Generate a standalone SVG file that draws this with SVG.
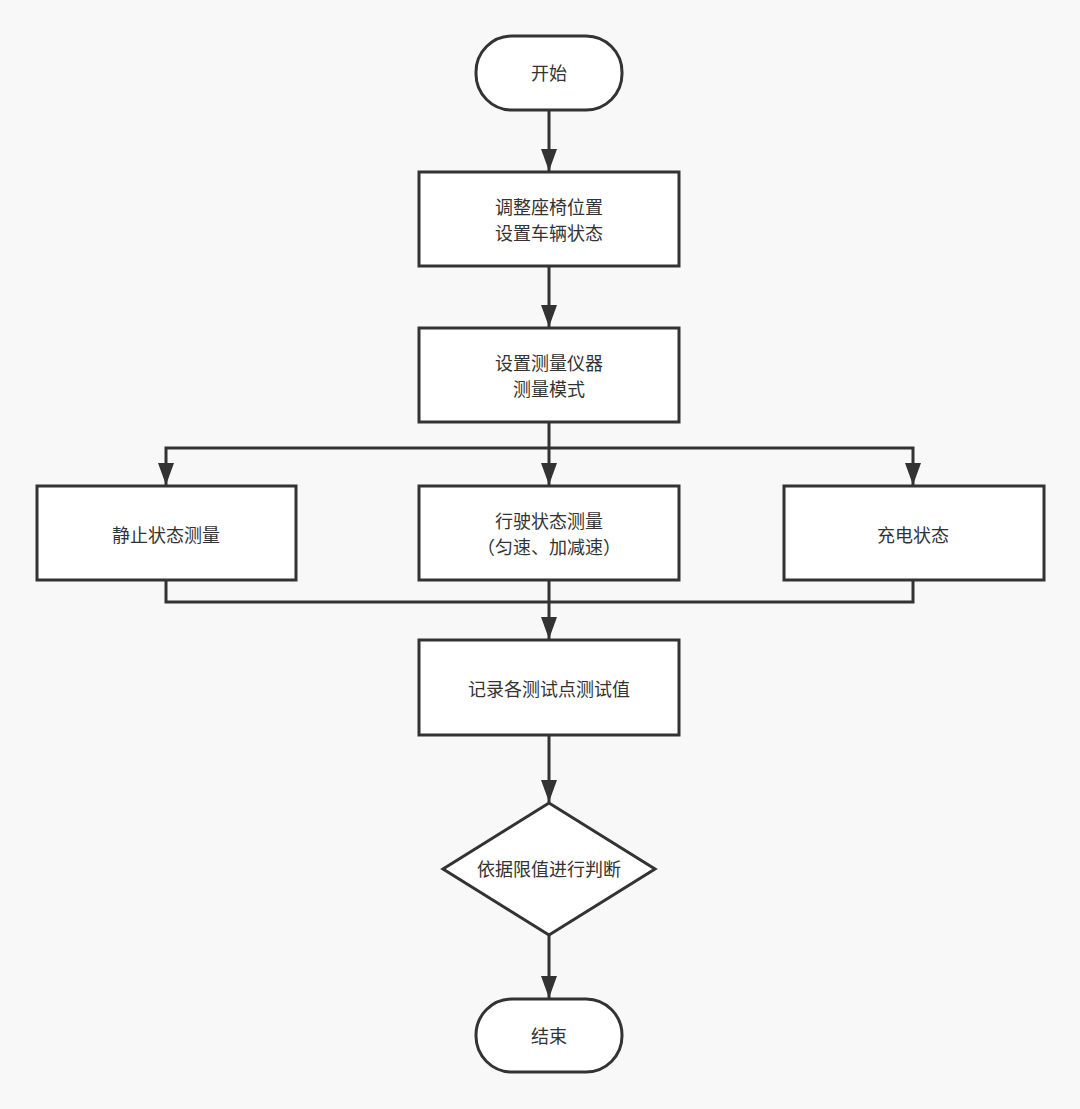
<svg xmlns="http://www.w3.org/2000/svg" width="1080" height="1109" viewBox="0 0 1080 1109">
<style>
.n{fill:#fff;stroke:#333;stroke-width:3}
.c{fill:none;stroke:#333;stroke-width:3}
text{font-family:"Liberation Serif","Noto Sans CJK SC",serif;font-size:18px;fill:#333;text-anchor:middle;dominant-baseline:central}
</style>
<defs>
<marker id="a" viewBox="0 0 22 16" refX="22" refY="8" markerWidth="22" markerHeight="16" markerUnits="userSpaceOnUse" orient="auto">
<path d="M0,0 L22,8 L0,16 Z" fill="#333"/>
</marker>
</defs>
<rect width="1080" height="1109" fill="#f8f8f8"/>
<g id="connectors">
<path class="c" d="M549,110 V171" marker-end="url(#a)"/>
<path class="c" d="M549,266 V327" marker-end="url(#a)"/>
<path class="c" d="M549,422 V485" marker-end="url(#a)"/>
<path class="c" d="M549,448 H166 V485" marker-end="url(#a)"/>
<path class="c" d="M549,448 H913 V485" marker-end="url(#a)"/>
<path class="c" d="M166,580 V602 H549"/>
<path class="c" d="M913,580 V602 H549"/>
<path class="c" d="M549,580 V639" marker-end="url(#a)"/>
<path class="c" d="M549,735 V802" marker-end="url(#a)"/>
<path class="c" d="M549,935 V998" marker-end="url(#a)"/>
</g>
<g id="start"><rect class="n" x="476" y="36" width="146" height="74" rx="36"/><text x="549" y="74">开始</text></g>
<g id="adjust"><rect class="n" x="419" y="172" width="260" height="94"/><text x="549" y="208">调整座椅位置</text><text x="549" y="234">设置车辆状态</text></g>
<g id="setup"><rect class="n" x="419" y="328" width="260" height="94"/><text x="549" y="364">设置测量仪器</text><text x="549" y="390">测量模式</text></g>
<g id="static"><rect class="n" x="37" y="486" width="259" height="94"/><text x="166" y="536">静止状态测量</text></g>
<g id="driving"><rect class="n" x="419" y="486" width="260" height="94"/><text x="549" y="522">行驶状态测量</text><text x="549" y="548">（匀速、加减速）</text></g>
<g id="charging"><rect class="n" x="784" y="486" width="260" height="94"/><text x="913" y="536">充电状态</text></g>
<g id="record"><rect class="n" x="419" y="640" width="260" height="95"/><text x="549" y="690">记录各测试点测试值</text></g>
<g id="judge"><polygon class="n" points="549,803 655,869 549,935 443,869"/><text x="549" y="870">依据限值进行判断</text></g>
<g id="end"><rect class="n" x="476" y="999" width="146" height="73" rx="36"/><text x="549" y="1037">结束</text></g>
</svg>
